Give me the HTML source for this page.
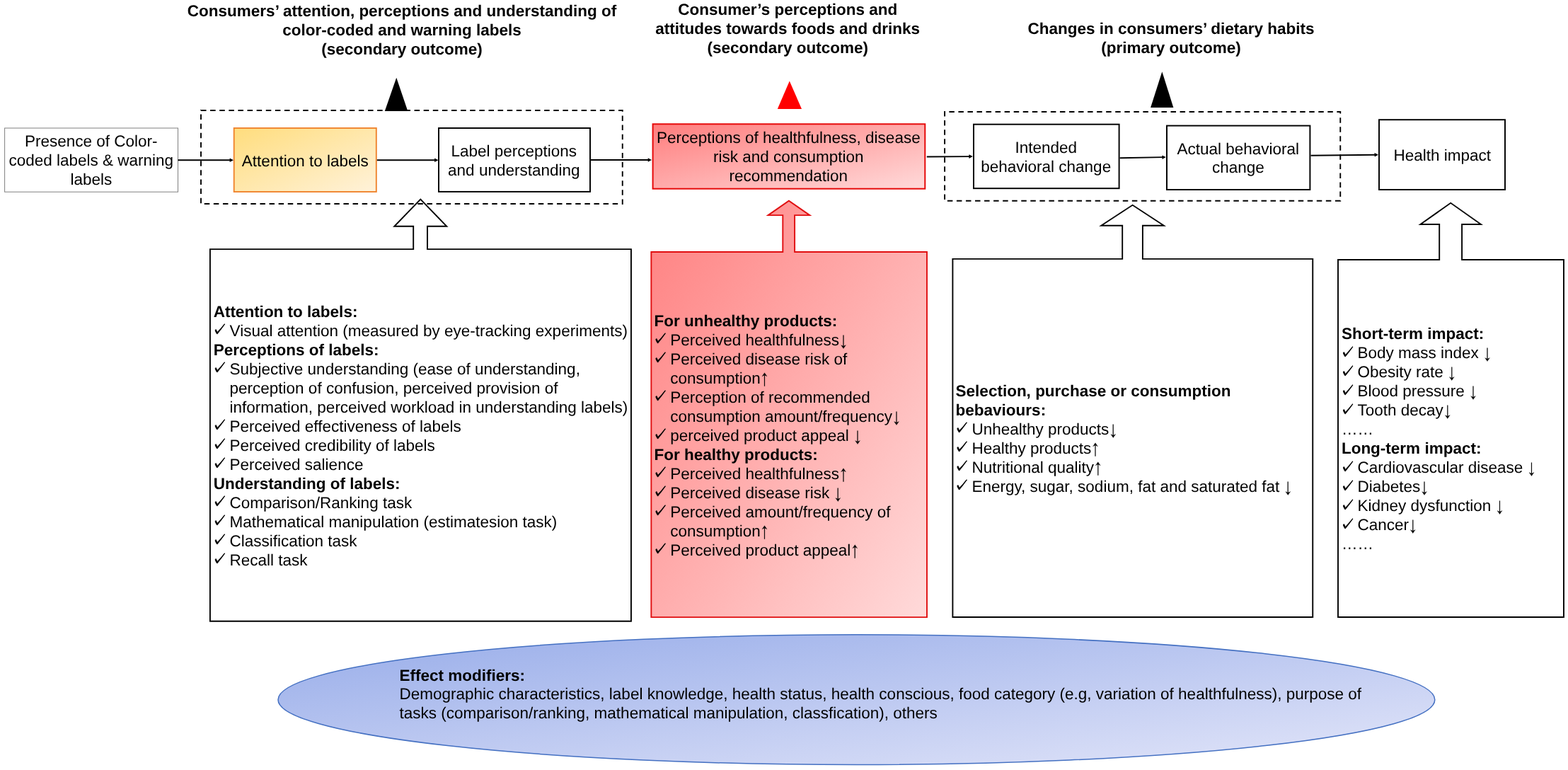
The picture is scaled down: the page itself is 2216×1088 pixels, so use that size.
<!DOCTYPE html>
<html lang="en">
<head>
<meta charset="utf-8">
<title>Conceptual framework: color-coded and warning labels</title>
<style>
html,body{margin:0;padding:0;background:#fff;}
body{width:2216px;height:1088px;overflow:hidden;}
svg{display:block;will-change:transform;}
text{font-family:"Liberation Sans",sans-serif;font-size:22.5px;fill:#000;white-space:pre;text-rendering:geometricPrecision;}
text.b{font-weight:bold;}
text.ck{font-family:"IPAGothic","DejaVu Sans",sans-serif;font-size:21px;stroke:#000;stroke-width:0.75px;}
tspan.ar{font-family:"WenQuanYi Zen Hei","DejaVu Sans",sans-serif;font-size:22px;stroke:#000;stroke-width:0.3px;}
</style>
</head>
<body>
<svg width="2216" height="1088" viewBox="0 0 2216 1088">
<defs>
<linearGradient id="gO" x1="0" y1="0" x2="1" y2="1"><stop offset="0" stop-color="#FFDD7D"/><stop offset="1" stop-color="#FFF2DA"/></linearGradient>
<linearGradient id="gR" x1="0" y1="0" x2="1" y2="1"><stop offset="0" stop-color="#FF7D7D"/><stop offset="1" stop-color="#FFDADA"/></linearGradient>
<linearGradient id="gR2" x1="0" y1="0" x2="1" y2="1"><stop offset="0" stop-color="#FF8080"/><stop offset="1" stop-color="#FFDADA"/></linearGradient>
<linearGradient id="gB" x1="0" y1="0" x2="1" y2="1"><stop offset="0" stop-color="#97ACE9"/><stop offset="1" stop-color="#E3E6F9"/></linearGradient>
</defs>
<text class="b" x="568" y="23" text-anchor="middle">Consumers’ attention, perceptions and understanding of</text>
<text class="b" x="568" y="50" text-anchor="middle">color-coded and warning labels</text>
<text class="b" x="568" y="77" text-anchor="middle">(secondary outcome)</text>
<text class="b" x="1113.2" y="21" text-anchor="middle">Consumer’s perceptions and</text>
<text class="b" x="1113.2" y="48" text-anchor="middle">attitudes towards foods and drinks</text>
<text class="b" x="1113.2" y="75" text-anchor="middle">(secondary outcome)</text>
<text class="b" x="1655" y="47.5" text-anchor="middle">Changes in consumers’ dietary habits</text>
<text class="b" x="1655" y="74.5" text-anchor="middle">(primary outcome)</text>
<rect x="284" y="156" width="595.75" height="132" fill="none" stroke="#000" stroke-width="1.9" stroke-dasharray="7.5 5.6126"/>
<path d="M1335.1,157.05 V283.75 H1894.25 V158 H1335.1" fill="none" stroke="#000" stroke-width="1.9" stroke-dasharray="7.5 5.548"/>
<polygon points="560.25,109.7 543.8,157 576.3,157" fill="#000"/>
<polygon points="1115.8,114.4 1098.8,153.9 1133,153.9" fill="#FF0000"/>
<polygon points="1642.35,101.3 1626.1,152.05 1658.35,152.05" fill="#000"/>
<path d="M296.9,352.1 H584.2 V319.75 H557.3 L594.3,281.55 L631.3,319.75 H604.0 V352.1 H891.95 V877.75 H296.9 Z" fill="none" stroke="#000" stroke-width="1.9" stroke-linejoin="miter"/>
<path d="M920.35,356 H1106.3 V304.1 H1085.5 L1114.9,283.7 L1144.4,304.1 H1123.1 V356 H1310 V872.1 H920.35 Z" fill="url(#gR2)" stroke="#E00E10" stroke-width="1.9" stroke-linejoin="miter"/>
<path d="M1346.4,365.9 H1586.2 V318.8 H1556.3 L1600.6,289.8 L1644.9,318.8 H1614.9 V365.9 H1855.25 V872 H1346.4 Z" fill="none" stroke="#000" stroke-width="1.9" stroke-linejoin="miter"/>
<path d="M1891,367 H2034.2 V317.0 H2007.4 L2050.2,286.8 L2093,317.0 H2066.1 V367 H2210 V872 H1891 Z" fill="none" stroke="#000" stroke-width="1.9" stroke-linejoin="miter"/>
<rect x="6.6" y="181.0" width="244.9" height="90.2" fill="#fff" stroke="#808080" stroke-width="1"/>
<rect x="330.7" y="181" width="201.1" height="90" fill="url(#gO)" stroke="#F0842E" stroke-width="1.9"/>
<rect x="620.0" y="181.0" width="214.0" height="89.9" fill="#fff" stroke="#000" stroke-width="1.95"/>
<rect x="922.6" y="175.3" width="384.7" height="91.4" fill="url(#gR)" stroke="#E60A0A" stroke-width="2"/>
<rect x="1376" y="175.7" width="205.6" height="90.5" fill="#fff" stroke="#000" stroke-width="1.95"/>
<rect x="1649.0" y="177.6" width="202.4" height="90.4" fill="#fff" stroke="#000" stroke-width="1.95"/>
<rect x="1949" y="169.2" width="178" height="98.8" fill="#fff" stroke="#000" stroke-width="1.95"/>
<line x1="251.5" y1="226.25" x2="325.6" y2="226.25" stroke="#000" stroke-width="1.9"/>
<polygon points="330,226.25 324.6,229.05 324.6,223.45" fill="#000"/>
<line x1="532.8" y1="226.25" x2="615.1" y2="226.25" stroke="#000" stroke-width="1.9"/>
<polygon points="619.5,226.25 614.1,229.05 614.1,223.45" fill="#000"/>
<line x1="834.5" y1="226" x2="916.6" y2="226.0" stroke="#000" stroke-width="1.9"/>
<polygon points="921,226 915.6,228.8 915.6,223.2" fill="#000"/>
<line x1="1309.8" y1="221.55" x2="1370.4" y2="221.08" stroke="#000" stroke-width="1.9"/>
<polygon points="1374.8,221.05 1369.42,223.89 1369.38,218.29" fill="#000"/>
<line x1="1582.6" y1="223.2" x2="1643.4" y2="222.17" stroke="#000" stroke-width="1.9"/>
<polygon points="1647.8,222.1 1642.45,224.99 1642.35,219.39" fill="#000"/>
<line x1="1852.5" y1="219.75" x2="1943.6" y2="218.8" stroke="#000" stroke-width="1.9"/>
<polygon points="1948,218.75 1942.63,221.61 1942.57,216.01" fill="#000"/>
<text class="r" x="128.8" y="207.4" text-anchor="middle">Presence of Color-</text>
<text class="r" x="128.8" y="234.4" text-anchor="middle">coded labels &amp; warning</text>
<text class="r" x="128.8" y="261.4" text-anchor="middle">labels</text>
<text class="r" x="431.3" y="235" text-anchor="middle">Attention to labels</text>
<text class="r" x="726.3" y="221.1" text-anchor="middle">Label perceptions</text>
<text class="r" x="726.3" y="247.9" text-anchor="middle">and understanding</text>
<text class="r" x="1114.3" y="202.3" text-anchor="middle">Perceptions of healthfulness, disease</text>
<text class="r" x="1114.3" y="229.3" text-anchor="middle">risk and consumption</text>
<text class="r" x="1114.3" y="256.3" text-anchor="middle">recommendation</text>
<text class="r" x="1478.2" y="216.1" text-anchor="middle">Intended</text>
<text class="r" x="1478.2" y="242.9" text-anchor="middle">behavioral change</text>
<text class="r" x="1749.8" y="218" text-anchor="middle">Actual behavioral</text>
<text class="r" x="1749.8" y="244.4" text-anchor="middle">change</text>
<text class="r" x="2038.3" y="227.3" text-anchor="middle">Health impact</text>
<text class="b" x="301.65" y="448">Attention to labels:</text>
<text class="ck" x="299.15" y="473.1">✓</text>
<text class="r" x="324.55" y="475">Visual attention (measured by eye-tracking experiments)</text>
<text class="b" x="301.65" y="502">Perceptions of labels:</text>
<text class="ck" x="299.15" y="527.1">✓</text>
<text class="r" x="324.55" y="529">Subjective understanding (ease of understanding,</text>
<text class="r" x="324.55" y="556">perception of confusion, perceived provision of</text>
<text class="r" x="324.55" y="583">information, perceived workload in understanding labels)</text>
<text class="ck" x="299.15" y="608.1">✓</text>
<text class="r" x="324.55" y="610">Perceived effectiveness of labels</text>
<text class="ck" x="299.15" y="635.1">✓</text>
<text class="r" x="324.55" y="637">Perceived credibility of labels</text>
<text class="ck" x="299.15" y="662.1">✓</text>
<text class="r" x="324.55" y="664">Perceived salience</text>
<text class="b" x="301.65" y="691">Understanding of labels:</text>
<text class="ck" x="299.15" y="716.1">✓</text>
<text class="r" x="324.55" y="718">Comparison/Ranking task</text>
<text class="ck" x="299.15" y="743.1">✓</text>
<text class="r" x="324.55" y="745">Mathematical manipulation (estimatesion task)</text>
<text class="ck" x="299.15" y="770.1">✓</text>
<text class="r" x="324.55" y="772">Classification task</text>
<text class="ck" x="299.15" y="797.1">✓</text>
<text class="r" x="324.55" y="799">Recall task</text>
<text class="b" x="924.5" y="460.75">For unhealthy products:</text>
<text class="ck" x="922.0" y="485.85">✓</text>
<text class="r" x="947.2" y="487.75">Perceived healthfulness<tspan class="ar" dx="-5.2" dy="2.9">↓</tspan></text>
<text class="ck" x="922.0" y="512.85">✓</text>
<text class="r" x="947.2" y="514.75">Perceived disease risk of</text>
<text class="r" x="947.2" y="541.75">consumption<tspan class="ar" dx="-5.2" dy="2.3">↑</tspan></text>
<text class="ck" x="922.0" y="566.85">✓</text>
<text class="r" x="947.2" y="568.75">Perception of recommended</text>
<text class="r" x="947.2" y="595.75">consumption amount/frequency<tspan class="ar" dx="-5.2" dy="2.9">↓</tspan></text>
<text class="ck" x="922.0" y="620.85">✓</text>
<text class="r" x="947.2" y="622.75">perceived product appeal <tspan class="ar" dx="-5.2" dy="2.9">↓</tspan></text>
<text class="b" x="924.5" y="649.75">For healthy products:</text>
<text class="ck" x="922.0" y="674.85">✓</text>
<text class="r" x="947.2" y="676.75">Perceived healthfulness<tspan class="ar" dx="-5.2" dy="2.3">↑</tspan></text>
<text class="ck" x="922.0" y="701.85">✓</text>
<text class="r" x="947.2" y="703.75">Perceived disease risk <tspan class="ar" dx="-5.2" dy="2.9">↓</tspan></text>
<text class="ck" x="922.0" y="728.85">✓</text>
<text class="r" x="947.2" y="730.75">Perceived amount/frequency of</text>
<text class="r" x="947.2" y="757.75">consumption<tspan class="ar" dx="-5.2" dy="2.3">↑</tspan></text>
<text class="ck" x="922.0" y="782.85">✓</text>
<text class="r" x="947.2" y="784.75">Perceived product appeal<tspan class="ar" dx="-5.2" dy="2.3">↑</tspan></text>
<text class="b" x="1350.6" y="559.9">Selection, purchase or consumption</text>
<text class="b" x="1350.6" y="586.9">bebaviours:</text>
<text class="ck" x="1348.1" y="612.0">✓</text>
<text class="r" x="1373.45" y="613.9">Unhealthy products<tspan class="ar" dx="-5.2" dy="2.9">↓</tspan></text>
<text class="ck" x="1348.1" y="639.0">✓</text>
<text class="r" x="1373.45" y="640.9">Healthy products<tspan class="ar" dx="-5.2" dy="2.3">↑</tspan></text>
<text class="ck" x="1348.1" y="666.0">✓</text>
<text class="r" x="1373.45" y="667.9">Nutritional quality<tspan class="ar" dx="-5.2" dy="2.3">↑</tspan></text>
<text class="ck" x="1348.1" y="693.0">✓</text>
<text class="r" x="1373.45" y="694.9">Energy, sugar, sodium, fat and saturated fat <tspan class="ar" dx="-5.2" dy="2.9">↓</tspan></text>
<text class="b" x="1895.9" y="479.4">Short-term impact:</text>
<text class="ck" x="1893.4" y="504.5">✓</text>
<text class="r" x="1918.5" y="506.4">Body mass index <tspan class="ar" dx="-5.2" dy="2.9">↓</tspan></text>
<text class="ck" x="1893.4" y="531.5">✓</text>
<text class="r" x="1918.5" y="533.4">Obesity rate <tspan class="ar" dx="-5.2" dy="2.9">↓</tspan></text>
<text class="ck" x="1893.4" y="558.5">✓</text>
<text class="r" x="1918.5" y="560.4">Blood pressure <tspan class="ar" dx="-5.2" dy="2.9">↓</tspan></text>
<text class="ck" x="1893.4" y="585.5">✓</text>
<text class="r" x="1918.5" y="587.4">Tooth decay<tspan class="ar" dx="-5.2" dy="2.9">↓</tspan></text>
<text class="r" x="1895.9" y="614.4">……</text>
<text class="b" x="1895.9" y="641.4">Long-term impact:</text>
<text class="ck" x="1893.4" y="666.5">✓</text>
<text class="r" x="1918.5" y="668.4">Cardiovascular disease <tspan class="ar" dx="-5.2" dy="2.9">↓</tspan></text>
<text class="ck" x="1893.4" y="693.5">✓</text>
<text class="r" x="1918.5" y="695.4">Diabetes<tspan class="ar" dx="-5.2" dy="2.9">↓</tspan></text>
<text class="ck" x="1893.4" y="720.5">✓</text>
<text class="r" x="1918.5" y="722.4">Kidney dysfunction <tspan class="ar" dx="-5.2" dy="2.9">↓</tspan></text>
<text class="ck" x="1893.4" y="747.5">✓</text>
<text class="r" x="1918.5" y="749.4">Cancer<tspan class="ar" dx="-5.2" dy="2.9">↓</tspan></text>
<text class="r" x="1895.9" y="776.4">……</text>
<ellipse cx="1210.4" cy="988.65" rx="817.4" ry="91.8" fill="url(#gB)" stroke="#4470C2" stroke-width="1.5"/>
<text class="b" x="564.5" y="961.6">Effect modifiers:</text>
<text class="r" x="564.5" y="988.2">Demographic characteristics, label knowledge, health status, health conscious, food category (e.g, variation of healthfulness), purpose of</text>
<text class="r" x="564.5" y="1015.2">tasks (comparison/ranking, mathematical manipulation, classfication), others</text>
</svg>
</body>
</html>
